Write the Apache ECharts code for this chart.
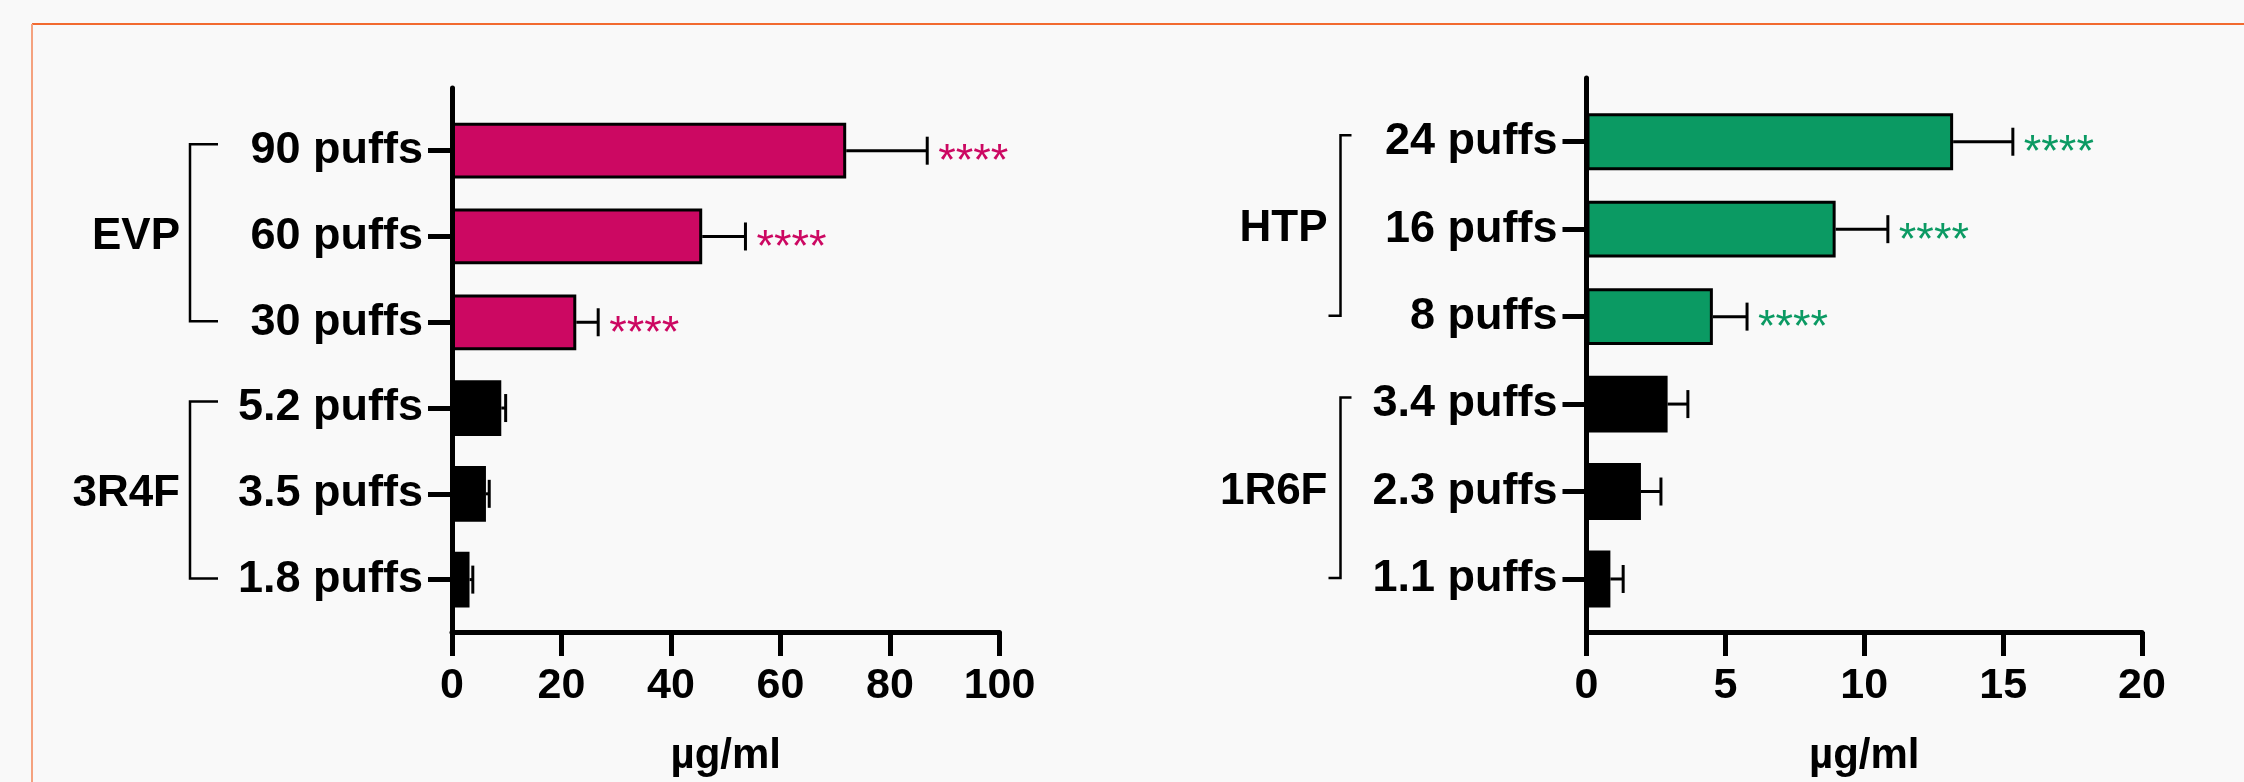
<!DOCTYPE html>
<html>
<head>
<meta charset="utf-8">
<script src="https://cdn.jsdelivr.net/npm/echarts@6/dist/echarts.min.js"></script>
<style>
  html, body { margin: 0; padding: 0; background: #F9F9F9; }
  #chart { width: 2244px; height: 782px; }
</style>
</head>
<body>
<div id="chart"></div>
<script>
// ---------- DATA ----------
const leftCategories = ['90 puffs', '60 puffs', '30 puffs', '5.2 puffs', '3.5 puffs', '1.8 puffs'];
const leftMeans = [72.0, 45.7, 22.7, 9.0, 6.2, 3.2];
const leftErrors = [14.8, 7.9, 4.0, 0.8, 0.6, 0.6];
const leftSignificance = ['****', '****', '****', '', '', ''];
const leftGroupNames = ['EVP', '3R4F'];
const leftGroupStart = [0, 3];
const leftGroupEnd = [2, 5];
const leftTickValues = [0, 20, 40, 60, 80, 100];

const rightCategories = ['24 puffs', '16 puffs', '8 puffs', '3.4 puffs', '2.3 puffs', '1.1 puffs'];
const rightMeans = [13.2, 8.97, 4.55, 2.92, 1.96, 0.86];
const rightErrors = [2.15, 1.88, 1.23, 0.73, 0.72, 0.46];
const rightSignificance = ['****', '****', '****', '', '', ''];
const rightGroupNames = ['HTP', '1R6F'];
const rightGroupStart = [0, 3];
const rightGroupEnd = [2, 5];
const rightTickValues = [0, 5, 10, 15, 20];

const axisTitle = 'µg/ml';

// ---------- STYLE / LAYOUT ----------
const W = 2244, H = 782;
const FONT = '"Liberation Sans", Arial, Helvetica, sans-serif';
const BLACK = '#000000';
const MAGENTA = '#CC0862';
const GREEN = '#0B9A63';

const panels = [
  {
    cats: leftCategories, means: leftMeans, errs: leftErrors, sig: leftSignificance,
    gNames: leftGroupNames, gStart: leftGroupStart, gEnd: leftGroupEnd, ticks: leftTickValues,
    color: MAGENTA,
    axisLeft: 452, axisRight: 999.5, lineTop: 88, bandTop: 107.8, bandBottom: 622.5, axisBottom: 637,
    bracketDx: -262, topArm: 28, bottomArm: 28, labelGap: 10
  },
  {
    cats: rightCategories, means: rightMeans, errs: rightErrors, sig: rightSignificance,
    gNames: rightGroupNames, gStart: rightGroupStart, gEnd: rightGroupEnd, ticks: rightTickValues,
    color: GREEN,
    axisLeft: 1586.5, axisRight: 2142, lineTop: 78, bandTop: 98, bandBottom: 622.7, axisBottom: 637,
    bracketDx: -246, topArm: 11, bottomArm: -12, labelGap: 13
  }
];

const grid = [], xAxis = [], yAxis = [], series = [];

panels.forEach((p, k) => {
  const gA = k * 2, gB = k * 2 + 1;
  const tMin = p.ticks[0], tMax = p.ticks[p.ticks.length - 1];
  const tInt = p.ticks[1] - p.ticks[0];
  grid.push({ left: p.axisLeft, width: p.axisRight - p.axisLeft, top: p.lineTop, height: p.axisBottom - p.lineTop, containLabel: false });
  grid.push({ left: p.axisLeft, width: p.axisRight - p.axisLeft, top: p.bandTop, height: p.bandBottom - p.bandTop, containLabel: false });

  xAxis.push({
    gridIndex: gA, type: 'value', min: tMin, max: tMax, interval: tInt,
    axisLine: { show: true, lineStyle: { color: BLACK, width: 5, cap: 'round' } },
    axisTick: { show: true, length: 24, lineStyle: { color: BLACK, width: 5 } },
    axisLabel: { show: true, margin: 33, color: BLACK, fontFamily: FONT, fontWeight: 'bold', fontSize: 43 },
    splitLine: { show: false },
    name: axisTitle, nameLocation: 'middle', nameGap: 103,
    nameTextStyle: { color: BLACK, fontFamily: FONT, fontWeight: 'bold', fontSize: 42 }
  });
  xAxis.push({ gridIndex: gB, type: 'value', min: tMin, max: tMax, interval: tInt, show: false });

  yAxis.push({
    gridIndex: gA, type: 'value', min: 0, max: 1,
    axisLine: { show: true, lineStyle: { color: BLACK, width: 5 } },
    axisTick: { show: false }, axisLabel: { show: false }, splitLine: { show: false }
  });
  yAxis.push({
    gridIndex: gB, type: 'category', inverse: true, data: p.cats,
    axisLine: { show: false },
    axisTick: { show: true, alignWithLabel: true, length: 24, lineStyle: { color: BLACK, width: 5 } },
    axisLabel: { show: true, margin: 29, color: BLACK, fontFamily: FONT, fontWeight: 'bold', fontSize: 45 },
    splitLine: { show: false }
  });

  const inFirstGroup = i => i >= p.gStart[0] && i <= p.gEnd[0];

  series.push({
    type: 'bar', xAxisIndex: gB, yAxisIndex: gB,
    barCategoryGap: '35%',
    data: p.means.map((v, i) => ({
      value: v,
      itemStyle: { color: inFirstGroup(i) ? p.color : BLACK, borderColor: BLACK, borderWidth: 3 }
    })),
    z: 2, silent: true, animation: false
  });

  series.push({
    type: 'custom', xAxisIndex: gB, yAxisIndex: gB, clip: false, z: 3, silent: true, animation: false,
    data: p.means.map((v, i) => [v, i]),
    renderItem: (params, api) => {
      const i = params.dataIndex;
      const a = api.coord([p.means[i], i]);
      const b = api.coord([p.means[i] + p.errs[i], i]);
      const children = [
        { type: 'line', shape: { x1: a[0], y1: a[1], x2: b[0], y2: b[1] }, style: { stroke: BLACK, lineWidth: 3 } },
        { type: 'line', shape: { x1: b[0], y1: b[1] - 14, x2: b[0], y2: b[1] + 14 }, style: { stroke: BLACK, lineWidth: 3 } }
      ];
      if (p.sig[i]) {
        children.push({
          type: 'text', x: b[0] + 11, y: b[1] + 12,
          style: { text: p.sig[i], fill: p.color, font: '45px ' + FONT, align: 'left', verticalAlign: 'middle' }
        });
      }
      return { type: 'group', children };
    }
  });

  series.push({
    type: 'custom', xAxisIndex: gB, yAxisIndex: gB, clip: false, z: 3, silent: true, animation: false,
    data: p.gNames.map((n, g) => [0, p.gStart[g]]),
    renderItem: (params, api) => {
      const g = params.dataIndex;
      const top = api.coord([0, p.gStart[g]]);
      const bot = api.coord([0, p.gEnd[g]]);
      const mid = api.coord([0, (p.gStart[g] + p.gEnd[g]) / 2]);
      const bx = top[0] + p.bracketDx;
      const y1 = top[1] - 6.5, y2 = bot[1] - 1;
      return {
        type: 'group',
        children: [
          { type: 'polyline', shape: { points: [[bx + p.topArm, y1], [bx, y1], [bx, y2], [bx + p.bottomArm, y2]] },
            style: { stroke: BLACK, lineWidth: 2.5, fill: null } },
          { type: 'text', x: bx - p.labelGap, y: mid[1],
            style: { text: p.gNames[g], fill: BLACK, font: 'bold 44px ' + FONT, align: 'right', verticalAlign: 'middle' } }
        ]
      };
    }
  });
});

const chart = echarts.init(document.getElementById('chart'), null, { renderer: 'canvas', width: W, height: H });
chart.setOption({
  backgroundColor: '#F9F9F9',
  animation: false,
  grid, xAxis, yAxis, series,
  graphic: [
    { type: 'line', shape: { x1: 32, y1: 24, x2: W, y2: 24 }, style: { stroke: '#F26A30', lineWidth: 2 }, silent: true },
    { type: 'line', shape: { x1: 32, y1: 24, x2: 32, y2: H }, style: { stroke: '#F5A27F', lineWidth: 2 }, silent: true }
  ]
});
</script>
</body>
</html>
